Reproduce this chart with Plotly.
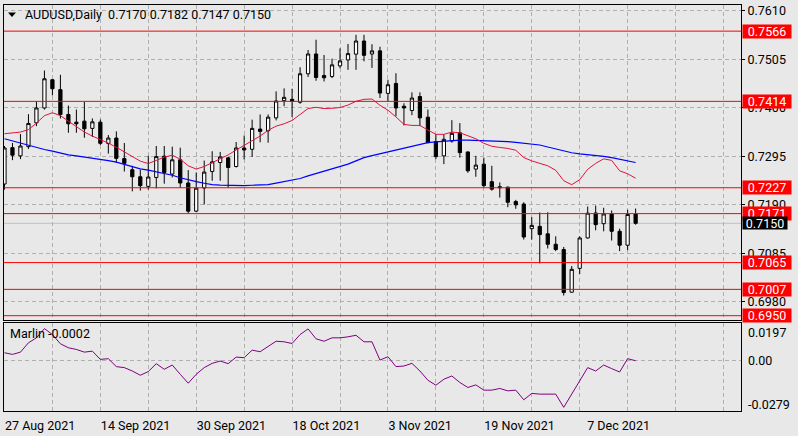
import plotly.graph_objects as go

# ---------------- data ----------------
bars = list(range(80))  # daily bars 27 Aug 2021 ... 16 Dec 2021

open_ = [0.72351, 0.73138, 0.72960, 0.73159, 0.73675, 0.73997, 0.74608, 0.74393, 0.73856, 0.73690,
         0.73712, 0.73555, 0.73690, 0.73228, 0.73346, 0.72901, 0.72659, 0.72508, 0.72300, 0.72493,
         0.72953, 0.72566, 0.72874, 0.72373, 0.71763, 0.72265, 0.72622, 0.72816, 0.72917, 0.72730,
         0.73131, 0.73103, 0.73540, 0.73503, 0.73783, 0.74156, 0.74184, 0.74120, 0.74737, 0.75166,
         0.74700, 0.74679, 0.74908, 0.75037, 0.75162, 0.75446, 0.75166, 0.75233, 0.74313, 0.74528,
         0.74034, 0.73942, 0.74244, 0.73798, 0.73271, 0.72960, 0.73282, 0.73460, 0.73045, 0.72674,
         0.72781, 0.72401, 0.72293, 0.72283, 0.71971, 0.71917, 0.71385, 0.71434, 0.71273, 0.71047,
         0.70933, 0.70009, 0.70525, 0.71183, 0.71724, 0.71492, 0.71703, 0.71327, 0.71026, 0.71700]
high = [0.73174, 0.73239, 0.73432, 0.73862, 0.74141, 0.74807, 0.74625, 0.74715, 0.74049, 0.73963,
        0.74126, 0.73770, 0.73748, 0.73411, 0.73490, 0.73239, 0.72745, 0.72659, 0.72960, 0.73174,
        0.73174, 0.73159, 0.73138, 0.72652, 0.72601, 0.72858, 0.73060, 0.73045, 0.72938, 0.73260,
        0.73400, 0.73744, 0.73856, 0.73856, 0.74356, 0.74421, 0.74414, 0.74878, 0.75252, 0.75474,
        0.75145, 0.75065, 0.75287, 0.75381, 0.75581, 0.75581, 0.75377, 0.75323, 0.74608, 0.74749,
        0.74098, 0.74335, 0.74335, 0.73963, 0.73426, 0.73426, 0.73733, 0.73669, 0.73056, 0.72960,
        0.72923, 0.72745, 0.72386, 0.72293, 0.72008, 0.71956, 0.71634, 0.71735, 0.71741, 0.71219,
        0.70989, 0.70575, 0.71219, 0.71864, 0.71885, 0.71836, 0.71778, 0.71385, 0.71793, 0.71820]
low = [0.72229, 0.72867, 0.72889, 0.73110, 0.73604, 0.73963, 0.74270, 0.73770, 0.73460, 0.73460,
       0.73353, 0.73368, 0.73196, 0.73009, 0.72816, 0.72622, 0.72192, 0.72207, 0.72229, 0.72257,
       0.72358, 0.72493, 0.72272, 0.71720, 0.71741, 0.71907, 0.72422, 0.72422, 0.72272, 0.72708,
       0.72884, 0.72938, 0.73254, 0.73245, 0.73727, 0.74034, 0.73798, 0.74088, 0.74668, 0.74586,
       0.74571, 0.74643, 0.74857, 0.74822, 0.74822, 0.75007, 0.74865, 0.74212, 0.74131, 0.73819,
       0.73619, 0.73841, 0.73604, 0.73239, 0.72889, 0.72781, 0.73245, 0.72923, 0.72594, 0.72508,
       0.72278, 0.72207, 0.72057, 0.71849, 0.71814, 0.71148, 0.71148, 0.70633, 0.70955, 0.70897,
       0.69936, 0.70001, 0.70403, 0.71170, 0.71348, 0.71327, 0.71127, 0.70897, 0.70918, 0.71470]
close = [0.73131, 0.72975, 0.73174, 0.73662, 0.73997, 0.74629, 0.74414, 0.73856, 0.73654, 0.73654,
         0.73546, 0.73697, 0.73232, 0.73346, 0.72906, 0.72798, 0.72508, 0.72315, 0.72502, 0.72944,
         0.72601, 0.72874, 0.72373, 0.71763, 0.72261, 0.72609, 0.72831, 0.72938, 0.72708, 0.73131,
         0.73088, 0.73555, 0.73490, 0.73798, 0.74148, 0.74227, 0.74141, 0.74737, 0.75166, 0.74657,
         0.74650, 0.74930, 0.75016, 0.75173, 0.75446, 0.75136, 0.75233, 0.74320, 0.74500, 0.73997,
         0.73997, 0.74212, 0.73783, 0.73245, 0.72944, 0.73318, 0.73447, 0.73030, 0.72637, 0.72760,
         0.72315, 0.72240, 0.72272, 0.71956, 0.71900, 0.71204, 0.71455, 0.71256, 0.71047, 0.70933,
         0.70001, 0.70504, 0.71183, 0.71720, 0.71471, 0.71703, 0.71327, 0.71026, 0.71692, 0.71500]

ma_fast = [0.73439, 0.73460, 0.73475, 0.73529, 0.73669, 0.73830, 0.73894, 0.73830, 0.73712, 0.73583,
           0.73475, 0.73389, 0.73314, 0.73235, 0.73146, 0.73045, 0.72942, 0.72846, 0.72794, 0.72858,
           0.72932, 0.72975, 0.72889, 0.72745, 0.72674, 0.72730, 0.72816, 0.72910, 0.72981, 0.73088,
           0.73189, 0.73282, 0.73389, 0.73512, 0.73604, 0.73654, 0.73727, 0.73856, 0.73984, 0.74012,
           0.73984, 0.73991, 0.74006, 0.74060, 0.74141, 0.74184, 0.74191, 0.74055, 0.73948, 0.73804,
           0.73641, 0.73619, 0.73619, 0.73518, 0.73426, 0.73426, 0.73475, 0.73460, 0.73389, 0.73331,
           0.73232, 0.73168, 0.73142, 0.73121, 0.73082, 0.72923, 0.72852, 0.72798, 0.72745, 0.72648,
           0.72422, 0.72336, 0.72444, 0.72669, 0.72798, 0.72895, 0.72863, 0.72637, 0.72573, 0.72476]
ma_slow = [0.73331, 0.73282, 0.73235, 0.73179, 0.73131, 0.73097, 0.73063, 0.73022, 0.72981, 0.72960,
           0.72938, 0.72914, 0.72891, 0.72858, 0.72824, 0.72779, 0.72723, 0.72680, 0.72650, 0.72616,
           0.72583, 0.72541, 0.72487, 0.72440, 0.72401, 0.72367, 0.72336, 0.72326, 0.72321, 0.72317,
           0.72315, 0.72324, 0.72330, 0.72336, 0.72369, 0.72401, 0.72433, 0.72470, 0.72526, 0.72577,
           0.72620, 0.72665, 0.72723, 0.72781, 0.72852, 0.72923, 0.72964, 0.73003, 0.73045, 0.73088,
           0.73127, 0.73164, 0.73204, 0.73245, 0.73265, 0.73282, 0.73293, 0.73303, 0.73301, 0.73297,
           0.73290, 0.73284, 0.73278, 0.73269, 0.73254, 0.73232, 0.73211, 0.73196, 0.73153, 0.73110,
           0.73067, 0.73028, 0.73003, 0.72987, 0.72968, 0.72947, 0.72921, 0.72884, 0.72852, 0.72816]
marlin = [0.00423, 0.00330, 0.00456, 0.00973, 0.01247, 0.01758, 0.01429, 0.00918, 0.00698, 0.00604,
          0.00456, 0.00511, 0.00055, 0.00093, -0.00346, -0.00401, -0.00588, -0.00824, -0.00621, -0.00181,
          -0.00495, -0.00258, -0.00769, -0.01264, -0.00769, -0.00401, -0.00165, -0.00038, -0.00181, 0.00181,
          0.00148, 0.00566, 0.00478, 0.00753, 0.01060, 0.01027, 0.00934, 0.01429, 0.01742, 0.01192,
          0.01060, 0.01247, 0.01247, 0.01302, 0.01390, 0.01027, 0.01027, 0.00016, 0.00203, -0.00346,
          -0.00313, -0.00165, -0.00588, -0.01099, -0.01374, -0.01044, -0.00863, -0.01225, -0.01500, -0.01357,
          -0.01648, -0.01648, -0.01555, -0.01687, -0.01648, -0.02181, -0.01830, -0.01868, -0.01868, -0.01868,
          -0.02599, -0.01868, -0.01099, -0.00401, -0.00588, -0.00258, -0.00456, -0.00643, 0.00093, -0.00020]

level_lines = [0.7566, 0.7414, 0.7227, 0.7171, 0.7065, 0.7007, 0.6950]
last_price = 0.7150
price_ticks = [0.7610, 0.7505, 0.7400, 0.7295, 0.7190, 0.7085, 0.6980]
grid_bars = list(range(0, 96, 6))
date_labels = {0: "27 Aug 2021", 12: "14 Sep 2021", 24: "30 Sep 2021", 36: "18 Oct 2021",
               48: "3 Nov 2021", 60: "19 Nov 2021", 72: "\u20077 Dec 2021"}
osc_labels = [("0.0197", 333), ("0.00", 361), ("-0.0279", 405.7)]
title_text = "AUDUSD,Daily  0.7170 0.7182 0.7147 0.7150"
osc_name = "Marlin -0.0002"

# ---------------- styling helpers ----------------
W, H = 798, 436
ML, MR, MT, MB = 3, 57, 3, 24
PW, PH = W - ML - MR, H - MT - MB
FONT = dict(family="Roboto, Liberation Sans, sans-serif", size=12.5, color="black")
BG = "#e8e8e8"
GRID = "#b0b0b0"
DASH = "4px,3px"


def px_x(px):
    return (px - ML) / PW


def px_y(py):
    return (H - MB - py) / PH


fig = go.Figure()

fig.add_trace(go.Candlestick(
    x=bars, open=open_, high=high, low=low, close=close,
    increasing=dict(line=dict(color="black", width=1), fillcolor="white"),
    decreasing=dict(line=dict(color="black", width=1), fillcolor="black"),
    whiskerwidth=0, xaxis="x", yaxis="y", hoverinfo="skip", showlegend=False))

fig.add_trace(go.Scatter(x=bars, y=ma_slow, mode="lines", line=dict(color="#0000ff", width=1.2),
                         xaxis="x", yaxis="y", hoverinfo="skip", showlegend=False))
fig.add_trace(go.Scatter(x=bars, y=ma_fast, mode="lines", line=dict(color="#e0143c", width=1),
                         xaxis="x", yaxis="y", hoverinfo="skip", showlegend=False))
fig.add_trace(go.Scatter(x=bars, y=marlin, mode="lines", line=dict(color="#800080", width=1),
                         xaxis="x2", yaxis="y2", hoverinfo="skip", showlegend=False))

shapes = []
for lv in level_lines:
    shapes.append(dict(type="line", xref="x domain", yref="y", x0=0, x1=1, y0=lv, y1=lv,
                       line=dict(color="#ff0000", width=1), layer="above"))
shapes.append(dict(type="line", xref="x domain", yref="y", x0=0, x1=1, y0=last_price, y1=last_price,
                   line=dict(color="#c0c0c0", width=1), layer="below"))
# title triangle
shapes.append(dict(type="path", xref="paper", yref="paper",
                   path=f"M {px_x(7)} {px_y(10.5)} L {px_x(15)} {px_y(10.5)} L {px_x(11)} {px_y(15)} Z",
                   fillcolor="black", line=dict(width=0)))

annotations = []
for lv in level_lines:
    annotations.append(dict(x=1, xref="paper", xanchor="left", xshift=1, y=lv, yref="y", yanchor="middle",
                            text=f"{lv:.4f}", showarrow=False, bgcolor="#ff0000",
                            font=dict(FONT, color="white"), width=48, height=13, borderpad=0,
                            align="center"))
annotations.append(dict(x=1, xref="paper", xanchor="left", xshift=1, y=last_price, yref="y",
                        yanchor="middle", text=f"{last_price:.4f}", showarrow=False, bgcolor="black",
                        font=dict(FONT, color="white"), width=44, height=12, borderpad=0, align="center"))
annotations.append(dict(x=px_x(22), y=px_y(12.8), xref="paper", yref="paper", xanchor="left",
                        yanchor="middle", text=title_text.replace("  ", "\u00a0\u00a0"),
                        showarrow=False, font=FONT))
annotations.append(dict(x=px_x(7), y=px_y(334), xref="paper", yref="paper", xanchor="left",
                        yanchor="middle", text=osc_name, showarrow=False, font=FONT))
for txt, py in osc_labels:
    annotations.append(dict(x=px_x(746), y=px_y(py), xref="paper", yref="paper", xanchor="left",
                            yanchor="middle", text=txt, showarrow=False, font=FONT))

price_top = 0.76226
price_bot = 0.69399
osc_top = 0.02071
osc_bot = -0.02802
price_dom = [px_y(320.7), 1]
osc_dom = [0, px_y(323.3)]
xr = [-0.06, -0.06 + PW / 8.0]

fig.update_layout(
    width=W, height=H, margin=dict(l=ML, r=MR, t=MT, b=MB, pad=0),
    paper_bgcolor=BG, plot_bgcolor=BG, font=FONT, hovermode=False, showlegend=False,
    boxgap=0.42,
    xaxis=dict(domain=[0, 1], anchor="y", range=xr, tickvals=grid_bars, showticklabels=False,
               showgrid=True, gridcolor=GRID, griddash=DASH, gridwidth=1, zeroline=False,
               showline=True, mirror=True, linecolor="black", linewidth=1, ticks="",
               rangeslider=dict(visible=False), fixedrange=True),
    xaxis2=dict(domain=[0, 1], anchor="y2", range=xr, matches="x", tickvals=grid_bars,
                ticktext=[date_labels.get(b, "") for b in grid_bars], ticklabelposition="outside right",
                showgrid=True, gridcolor=GRID, griddash=DASH, gridwidth=1, zeroline=False,
                showline=True, mirror=True, linecolor="black", linewidth=1, ticks="",
                tickfont=FONT, ticklabelstandoff=3),
    yaxis=dict(domain=price_dom, anchor="x", side="right", range=[price_bot, price_top],
               tickvals=price_ticks, ticktext=[f"{t:.4f}" for t in price_ticks], tickfont=FONT,
               showgrid=True, gridcolor=GRID, griddash=DASH, gridwidth=1, zeroline=False,
               showline=True, mirror=True, linecolor="black", linewidth=1,
               ticks="outside", ticklen=3, tickcolor="black"),
    yaxis2=dict(domain=osc_dom, anchor="x2", side="right", range=[osc_bot, osc_top],
                tickvals=[0], showticklabels=False, showgrid=True, gridcolor=GRID, griddash=DASH,
                zeroline=False, showline=True, mirror=True, linecolor="black", linewidth=1, ticks=""),
    shapes=shapes, annotations=annotations,
)

fig.write_html("out.html", config=dict(displayModeBar=False, staticPlot=True))
